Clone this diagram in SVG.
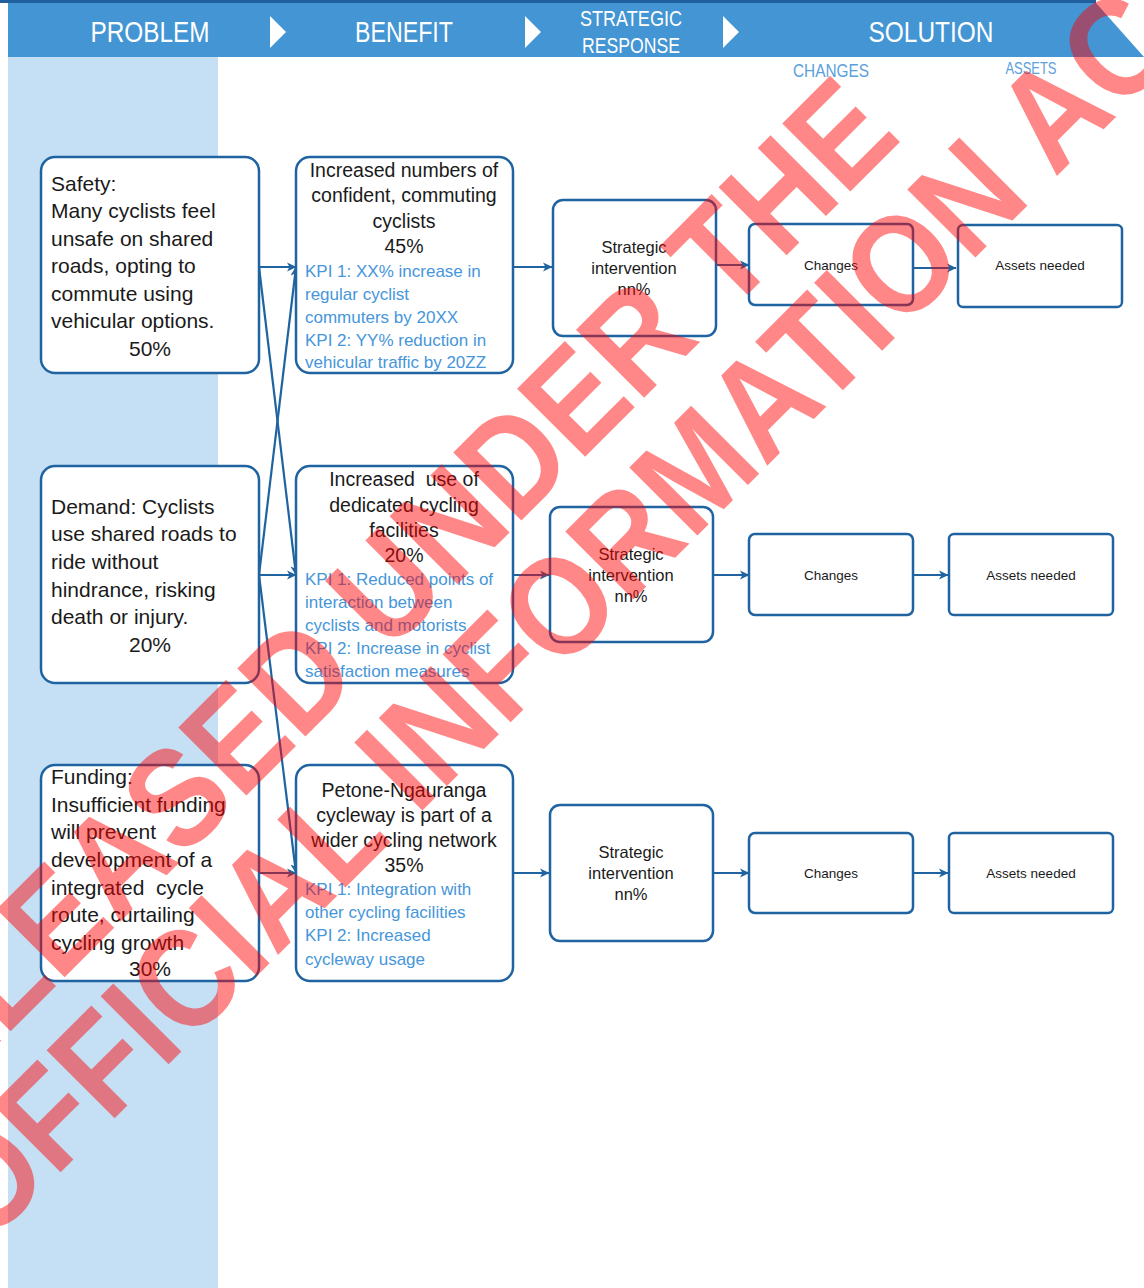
<svg xmlns="http://www.w3.org/2000/svg" width="1144" height="1288" viewBox="0 0 1144 1288">
<style>
.box{fill:#fff;stroke:#1F64A0;stroke-width:2.5}
.t{font-family:"Liberation Sans",Arial,sans-serif;fill:#1a1a1a}
.p{font-size:21px}
.b{font-size:19.5px;text-anchor:middle}
.k{font-size:17px;fill:#4696DA}
.s{font-size:16.5px;text-anchor:middle}
.c{font-size:13.5px;text-anchor:middle}
.h{font-family:"Liberation Sans",Arial,sans-serif;fill:#fff;text-anchor:middle}
.e{stroke:#1F64A0;stroke-width:2.2;fill:none}
</style>
<defs>
<marker id="ah" markerWidth="10" markerHeight="10" refX="9" refY="5" orient="auto" markerUnits="userSpaceOnUse">
<path d="M0,0.5 L9.5,5 L0,9.5 L2.5,5 z" fill="#1F64A0"/>
</marker>
</defs>
<rect width="1144" height="1288" fill="#fff"/>
<g id="header">
<rect x="8" y="57" width="210" height="1231" fill="#C5DFF4"/>
<polygon points="8,3 1096,3 1144,57 8,57" fill="#4395D3"/>
<line x1="0" y1="1.5" x2="1096" y2="1.5" stroke="#1F5F9E" stroke-width="3"/>
<polygon points="270,16 286,32 270,48" fill="#fff"/>
<polygon points="525,16 541,32 525,48" fill="#fff"/>
<polygon points="723,16 739,32 723,48" fill="#fff"/>
<text class="h" x="150" y="42" font-size="29" textLength="119" lengthAdjust="spacingAndGlyphs">PROBLEM</text>
<text class="h" x="404" y="42" font-size="29" textLength="98" lengthAdjust="spacingAndGlyphs">BENEFIT</text>
<text class="h" x="631" y="26" font-size="22" textLength="102" lengthAdjust="spacingAndGlyphs">STRATEGIC</text>
<text class="h" x="631" y="53" font-size="22" textLength="98" lengthAdjust="spacingAndGlyphs">RESPONSE</text>
<text class="h" x="931" y="42" font-size="29" textLength="125" lengthAdjust="spacingAndGlyphs">SOLUTION</text>
<text class="h" x="831" y="77" font-size="19" style="fill:#5AA0DC" textLength="76" lengthAdjust="spacingAndGlyphs">CHANGES</text>
<text class="h" x="1031" y="74" font-size="17" style="fill:#5AA0DC" textLength="51" lengthAdjust="spacingAndGlyphs">ASSETS</text>
</g>
<g id="connectors">
<line class="e" x1="259" y1="267" x2="296" y2="267" marker-end="url(#ah)"/>
<line class="e" x1="259" y1="267" x2="296" y2="575" marker-end="url(#ah)"/>
<line class="e" x1="259" y1="575" x2="296" y2="267" marker-end="url(#ah)"/>
<line class="e" x1="259" y1="575" x2="296" y2="575" marker-end="url(#ah)"/>
<line class="e" x1="259" y1="575" x2="296" y2="873" marker-end="url(#ah)"/>
<line class="e" x1="259" y1="873" x2="296" y2="873" marker-end="url(#ah)"/>
<line class="e" x1="513" y1="267" x2="552" y2="267" marker-end="url(#ah)"/>
<line class="e" x1="513" y1="575" x2="549" y2="575" marker-end="url(#ah)"/>
<line class="e" x1="513" y1="873" x2="549" y2="873" marker-end="url(#ah)"/>
<line class="e" x1="716" y1="265" x2="749" y2="265" marker-end="url(#ah)"/>
<line class="e" x1="713" y1="575" x2="749" y2="575" marker-end="url(#ah)"/>
<line class="e" x1="713" y1="873" x2="749" y2="873" marker-end="url(#ah)"/>
<line class="e" x1="913" y1="268" x2="956" y2="268" marker-end="url(#ah)"/>
<line class="e" x1="913" y1="575" x2="948" y2="575" marker-end="url(#ah)"/>
<line class="e" x1="913" y1="873" x2="948" y2="873" marker-end="url(#ah)"/>
</g>
<g id="problem-safety">
<rect class="box" x="41" y="157" width="218" height="216" rx="14"/>
<text class="t p" x="51" y="191">Safety:</text>
<text class="t p" x="51" y="218">Many cyclists feel</text>
<text class="t p" x="51" y="246">unsafe on shared</text>
<text class="t p" x="51" y="273">roads, opting to</text>
<text class="t p" x="51" y="301">commute using</text>
<text class="t p" x="51" y="328">vehicular options.</text>
<text class="t p" x="150" y="356" text-anchor="middle">50%</text>
</g>
<g id="problem-demand">
<rect class="box" x="41" y="466" width="218" height="217" rx="14"/>
<text class="t p" x="51" y="514">Demand: Cyclists</text>
<text class="t p" x="51" y="541">use shared roads to</text>
<text class="t p" x="51" y="569">ride without</text>
<text class="t p" x="51" y="597">hindrance, risking</text>
<text class="t p" x="51" y="624">death or injury.</text>
<text class="t p" x="150" y="652" text-anchor="middle">20%</text>
</g>
<g id="problem-funding">
<rect class="box" x="41" y="765" width="218" height="216" rx="14"/>
<text class="t p" x="51" y="784">Funding:</text>
<text class="t p" x="51" y="812">Insufficient funding</text>
<text class="t p" x="51" y="839">will prevent</text>
<text class="t p" x="51" y="867">development of a</text>
<text class="t p" x="51" y="895" xml:space="preserve">integrated  cycle</text>
<text class="t p" x="51" y="922">route, curtailing</text>
<text class="t p" x="51" y="950">cycling growth</text>
<text class="t p" x="150" y="976" text-anchor="middle">30%</text>
</g>
<g id="benefit-1">
<rect class="box" x="296" y="157" width="217" height="216" rx="14"/>
<text class="t b" x="404" y="177">Increased numbers of</text>
<text class="t b" x="404" y="202">confident, commuting</text>
<text class="t b" x="404" y="228">cyclists</text>
<text class="t b" x="404" y="253">45%</text>
<text class="t k" x="305" y="277">KPI 1: XX% increase in</text>
<text class="t k" x="305" y="300">regular cyclist</text>
<text class="t k" x="305" y="323">commuters by 20XX</text>
<text class="t k" x="305" y="346">KPI 2: YY% reduction in</text>
<text class="t k" x="305" y="368">vehicular traffic by 20ZZ</text>
</g>
<g id="benefit-2">
<rect class="box" x="296" y="466" width="217" height="217" rx="14"/>
<text class="t b" x="404" y="486" xml:space="preserve">Increased  use of</text>
<text class="t b" x="404" y="512">dedicated cycling</text>
<text class="t b" x="404" y="537">facilities</text>
<text class="t b" x="404" y="562">20%</text>
<text class="t k" x="305" y="585">KPI 1: Reduced points of</text>
<text class="t k" x="305" y="608">interaction between</text>
<text class="t k" x="305" y="631">cyclists and motorists</text>
<text class="t k" x="305" y="654">KPI 2: Increase in cyclist</text>
<text class="t k" x="305" y="677">satisfaction measures</text>
</g>
<g id="benefit-3">
<rect class="box" x="296" y="765" width="217" height="216" rx="14"/>
<text class="t b" x="404" y="797">Petone-Ngauranga</text>
<text class="t b" x="404" y="822">cycleway is part of a</text>
<text class="t b" x="404" y="847">wider cycling network</text>
<text class="t b" x="404" y="872">35%</text>
<text class="t k" x="305" y="895">KPI 1: Integration with</text>
<text class="t k" x="305" y="918">other cycling facilities</text>
<text class="t k" x="305" y="941">KPI 2: Increased</text>
<text class="t k" x="305" y="965">cycleway usage</text>
</g>
<g id="strategic-1">
<rect class="box" x="553" y="200" width="163" height="136" rx="10"/>
<text class="t s" x="634" y="253">Strategic</text>
<text class="t s" x="634" y="274">intervention</text>
<text class="t s" x="634" y="295">nn%</text>
</g>
<g id="strategic-2">
<rect class="box" x="550" y="507" width="163" height="135" rx="10"/>
<text class="t s" x="631" y="560">Strategic</text>
<text class="t s" x="631" y="581">intervention</text>
<text class="t s" x="631" y="602">nn%</text>
</g>
<g id="strategic-3">
<rect class="box" x="550" y="805" width="163" height="136" rx="10"/>
<text class="t s" x="631" y="858">Strategic</text>
<text class="t s" x="631" y="879">intervention</text>
<text class="t s" x="631" y="900">nn%</text>
</g>
<g id="changes-1">
<rect class="box" x="749" y="224" width="164" height="81" rx="6"/>
<text class="t c" x="831" y="270">Changes</text>
</g>
<g id="changes-2">
<rect class="box" x="749" y="534" width="164" height="81" rx="6"/>
<text class="t c" x="831" y="580">Changes</text>
</g>
<g id="changes-3">
<rect class="box" x="749" y="833" width="164" height="80" rx="6"/>
<text class="t c" x="831" y="878">Changes</text>
</g>
<g id="assets-1">
<rect class="box" x="958" y="225" width="164" height="82" rx="5"/>
<text class="t c" x="1040" y="270">Assets needed</text>
</g>
<g id="assets-2">
<rect class="box" x="949" y="534" width="164" height="81" rx="5"/>
<text class="t c" x="1031" y="580">Assets needed</text>
</g>
<g id="assets-3">
<rect class="box" x="949" y="833" width="164" height="80" rx="5"/>
<text class="t c" x="1031" y="878">Assets needed</text>
</g>
<g id="watermark" fill="#ff0000" fill-opacity="0.47" font-family="Liberation Sans, Arial, sans-serif" font-weight="bold" font-size="125">
<text transform="translate(-118,1160) rotate(-45) scale(1,1.12)">RELEASED UNDER THE</text>
<text transform="translate(-14,1247) rotate(-45) scale(1,1.12)">OFFICIAL INFORMATION ACT</text>
</g>
</svg>
